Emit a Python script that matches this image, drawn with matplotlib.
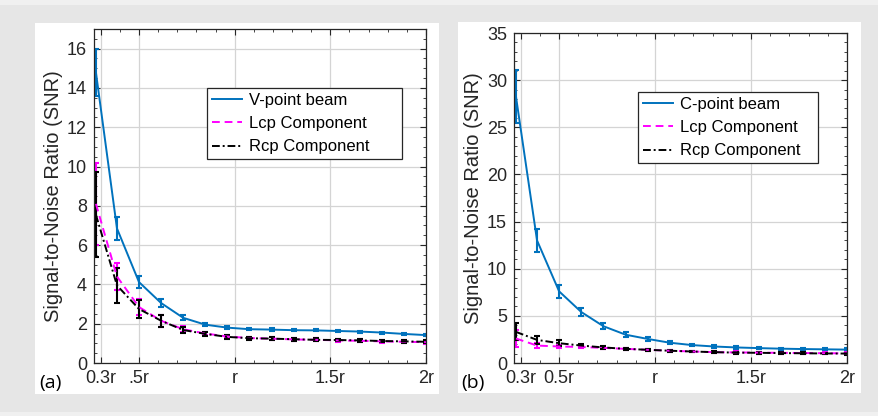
import matplotlib
matplotlib.use("Agg")
import matplotlib.pyplot as plt
from matplotlib.patches import Rectangle
from matplotlib.ticker import MultipleLocator, FixedLocator

plt.rcParams['font.family'] = ['Liberation Sans', 'DejaVu Sans']

# ---- data ----
x = [0.275, 0.385, 0.5, 0.616, 0.731, 0.847, 0.962, 1.077, 1.193, 1.308,
     1.423, 1.539, 1.654, 1.770, 1.885, 2.0]

# panel (a)
a_v = [14.8, 6.85, 4.12, 3.05, 2.3, 1.95, 1.8, 1.72, 1.70, 1.67, 1.66, 1.63, 1.60, 1.55, 1.48, 1.42]
a_v_err = [1.2, 0.58, 0.3, 0.2, 0.13, 0.08, 0.07, 0.06, 0.06, 0.06, 0.05, 0.05, 0.05, 0.05, 0.05, 0.05]
a_l = [8.1, 4.4, 2.85, 2.15, 1.72, 1.5, 1.35, 1.27, 1.24, 1.2, 1.18, 1.15, 1.13, 1.1, 1.08, 1.06]
a_l_err = [2.1, 0.7, 0.4, 0.3, 0.15, 0.1, 0.08, 0.07, 0.07, 0.07, 0.07, 0.07, 0.07, 0.07, 0.07, 0.07]
a_r = [7.55, 3.95, 2.75, 2.15, 1.68, 1.48, 1.33, 1.26, 1.24, 1.21, 1.18, 1.17, 1.15, 1.12, 1.1, 1.08]
a_r_err = [2.15, 0.9, 0.45, 0.3, 0.17, 0.12, 0.1, 0.08, 0.08, 0.08, 0.07, 0.07, 0.07, 0.07, 0.07, 0.07]

# panel (b)
b_c = [28.3, 13.0, 7.6, 5.4, 3.9, 3.0, 2.55, 2.15, 1.9, 1.75, 1.65, 1.58, 1.52, 1.48, 1.45, 1.42]
b_c_err = [2.8, 1.2, 0.7, 0.4, 0.3, 0.25, 0.2, 0.15, 0.12, 0.12, 0.12, 0.12, 0.12, 0.12, 0.12, 0.12]
b_l = [2.6, 1.85, 1.75, 1.7, 1.6, 1.5, 1.4, 1.3, 1.22, 1.15, 1.12, 1.1, 1.08, 1.06, 1.04, 1.02]
b_l_err = [0.9, 0.3, 0.2, 0.15, 0.12, 0.12, 0.1, 0.1, 0.1, 0.1, 0.1, 0.1, 0.1, 0.1, 0.1, 0.1]
b_r = [3.3, 2.45, 2.1, 1.85, 1.65, 1.5, 1.4, 1.3, 1.22, 1.15, 1.1, 1.08, 1.05, 1.03, 1.01, 1.0]
b_r_err = [0.9, 0.45, 0.3, 0.15, 0.12, 0.12, 0.1, 0.1, 0.1, 0.1, 0.1, 0.1, 0.1, 0.1, 0.1, 0.1]

xticks = [0.3, 0.5, 1.0, 1.5, 2.0]
a_xticklabels = ['0.3r', '.5r', 'r', '1.5r', '2r']
b_xticklabels = ['0.3r', '0.5r', 'r', '1.5r', '2r']
a_names = ['V-point beam', 'Lcp Component', 'Rcp Component']
b_names = ['C-point beam', 'Lcp Component', 'Rcp Component']

BLUE = '#0072BD'
MAG = '#FF00FF'
BLK = '#000000'

W, H = 879, 416
fig = plt.figure(figsize=(W / 100, H / 100), dpi=100)
fig.patch.set_facecolor('#e6e6e6')


def px_rect(x0, y0, x1, y1, **kw):
    fig.patches.append(Rectangle((x0 / W, 1 - y1 / H), (x1 - x0) / W, (y1 - y0) / H,
                                 transform=fig.transFigure, zorder=-5, **kw))


# light outer border
px_rect(0, 0, 879, 5, facecolor='#f0f0f0', edgecolor='none')
px_rect(0, 412, 879, 416, facecolor='#f0f0f0', edgecolor='none')
# white panels
px_rect(35, 23, 439, 394, facecolor='white', edgecolor='none')
px_rect(458, 22, 861, 393, facecolor='white', edgecolor='none')


def make_axes(l, t, r, b):
    ax = fig.add_axes([l / W, 1 - b / H, (r - l) / W, (b - t) / H])
    ax.set_zorder(1)
    return ax


def style(ax, ylim, ymaj, ymin, xlabels):
    ax.set_xlim(0.265, 2.0)
    ax.set_ylim(*ylim)
    ax.xaxis.set_major_locator(FixedLocator(xticks))
    ax.set_xticklabels(xlabels)
    ax.xaxis.set_minor_locator(MultipleLocator(0.1))
    ax.yaxis.set_major_locator(MultipleLocator(ymaj))
    ax.yaxis.set_minor_locator(MultipleLocator(ymin))
    ax.tick_params(which='both', direction='in', top=True, right=True,
                   color='#262626', labelsize=13, labelcolor='#262626', pad=5)
    ax.tick_params(which='major', length=4, width=0.8)
    ax.tick_params(which='minor', length=2.2, width=0.6)
    ax.grid(True, which='major', color='#d4d4d4', linewidth=0.9)
    ax.set_axisbelow(True)
    for s in ax.spines.values():
        s.set_color('#262626')
        s.set_linewidth(0.9)


def draw(ax, ys, errs, names):
    styles = [(BLUE, '-'), (MAG, (0, (4, 2.5))), (BLK, (0, (4, 1.5, 1, 1.5)))]
    handles = []
    for y, e, (c, ls), n in zip(ys, errs, styles, names):
        h = ax.errorbar(x, y, yerr=e, color=c, linestyle=ls, linewidth=1.4,
                        elinewidth=1.5, capsize=2.3, capthick=1.5, label=n)
        handles.append(h[0])
    return handles


def legend(ax, handles, names, box):
    leg = ax.legend(handles, names, loc='upper left', bbox_to_anchor=box, mode='expand',
                    fontsize=12, fancybox=False, framealpha=1, edgecolor='#262626',
                    borderpad=0.28, labelspacing=0.5, handlelength=1.8, handletextpad=0.45,
                    borderaxespad=0)
    leg.get_frame().set_linewidth(0.9)
    return leg


axA = make_axes(94, 29, 426, 363)
style(axA, (0, 17), 2, 0.5, a_xticklabels)
hA = draw(axA, [a_v, a_l, a_r], [a_v_err, a_l_err, a_r_err], a_names)
legend(axA, hA, a_names, (0.34, 0.613, 0.587, 0.21))

axB = make_axes(514, 33, 847, 363)
style(axB, (0, 35), 5, 1, b_xticklabels)
hB = draw(axB, [b_c, b_l, b_r], [b_c_err, b_l_err, b_r_err], b_names)
legend(axB, hB, b_names, (0.372, 0.609, 0.541, 0.212))

fig.text(54 / W, 1 - 196 / H, 'Signal-to-Noise Ratio (SNR)', rotation=90,
         ha='center', va='center', fontsize=14.5, color='#262626')
fig.text(474 / W, 1 - 198 / H, 'Signal-to-Noise Ratio (SNR)', rotation=90,
         ha='center', va='center', fontsize=14.5, color='#262626')

fig.text(39 / W, 1 - 383 / H, '(a)', ha='left', va='center', fontsize=14,
         family=['Open Sans', 'DejaVu Sans'], color='black')
fig.text(461 / W, 1 - 383 / H, '(b)', ha='left', va='center', fontsize=14,
         family=['Open Sans', 'DejaVu Sans'], color='black')

fig.savefig('out.png', dpi=100, facecolor=fig.get_facecolor())
